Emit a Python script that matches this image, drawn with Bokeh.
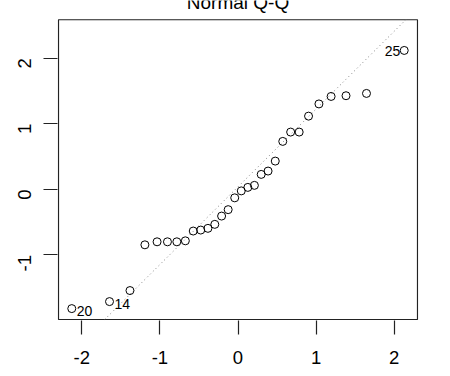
import math
from bokeh.plotting import figure
from bokeh.models import FixedTicker, ColumnDataSource
from bokeh.core.properties import value
from bokeh.embed import file_html
from bokeh.resources import INLINE

# Theoretical quantiles (n = 30)
theoretical = [-2.128, -1.645, -1.383, -1.192, -1.036, -0.903, -0.783, -0.674,
               -0.573, -0.477, -0.385, -0.297, -0.210, -0.126, -0.042,
               0.042, 0.126, 0.210, 0.297, 0.385, 0.477, 0.573, 0.674,
               0.783, 0.903, 1.036, 1.192, 1.383, 1.645, 2.128]
# Standardized residuals
std_resid = [-1.817, -1.710, -1.542, -0.845, -0.799, -0.799, -0.799, -0.784,
             -0.635, -0.620, -0.594, -0.533, -0.407, -0.309, -0.129,
             -0.023, 0.030, 0.061, 0.228, 0.279, 0.431, 0.731, 0.873,
             0.873, 1.116, 1.302, 1.416, 1.427, 1.462, 2.117]
# Labelled observations: (index in sorted order, label, side)
label_index = [0, 1, 29]
label_text = ["20", "14", "25"]
label_side = ["right", "right", "left"]
# Reference line (intercept, slope)
ref_line = [0.039, 1.185]
# Plot region (R "usr" limits)
plot_xlim = [-2.298, 2.298]
plot_ylim = [-1.983, 2.585]
x_ticks = [-2, -1, 0, 1, 2]
y_ticks = [-1, 0, 1, 2]
title_text = "Normal Q-Q"
title_y = 2.85

FONT = "Liberation Sans"
BOX = "#222222"

p = figure(width=450, height=376,
           x_range=(plot_xlim[0] - 0.0128, plot_xlim[1] + 0.0128),
           y_range=(plot_ylim[0] - 0.0152, 2.878),
           output_backend="svg", toolbar_location=None,
           min_border_left=57, min_border_right=32, min_border_top=0, min_border_bottom=56)
p.background_fill_color = "white"
p.border_fill_color = "white"
p.grid.visible = False
p.outline_line_color = None

p.xaxis.ticker = FixedTicker(ticks=x_ticks)
p.yaxis.ticker = FixedTicker(ticks=y_ticks)
for ax in (p.xaxis, p.yaxis):
    ax.axis_line_color = None
    ax.major_tick_out = 14
    ax.major_tick_in = 0
    ax.minor_tick_line_color = None
    ax.major_tick_line_color = BOX
    ax.major_tick_line_width = 1.2
    ax.major_label_text_font = FONT
    ax.major_label_text_font_size = "18.5px"
    ax.major_label_text_color = "black"
p.xaxis.major_label_overrides = {t: str(t) for t in x_ticks}
p.yaxis.major_label_overrides = {t: str(t) for t in y_ticks}
p.xaxis.major_label_standoff = 16
p.yaxis.major_label_standoff = 19
p.yaxis.major_label_orientation = math.pi / 2

# plot box
p.quad(left=[plot_xlim[0]], right=[plot_xlim[1]], bottom=[plot_ylim[0]], top=[plot_ylim[1]],
       fill_color=None, line_color=BOX, line_width=1.2)

# reference line clipped to the plot box
a, b = ref_line
lx0 = max(plot_xlim[0], (plot_ylim[0] - a) / b)
lx1 = min(plot_xlim[1], (plot_ylim[1] - a) / b)
p.line([lx0, lx1], [a + b * lx0, a + b * lx1], line_color="#808080",
       line_dash="1 3", line_width=1)

src = ColumnDataSource(dict(x=theoretical, y=std_resid))
p.scatter("x", "y", source=src, marker="circle", size=8, fill_color=None,
          line_color="black", line_width=1)

rx, ry, rt, qx, qy, qt = [], [], [], [], [], []
for i, t, s in zip(label_index, label_text, label_side):
    if s == "right":
        rx.append(theoretical[i]); ry.append(std_resid[i]); rt.append(t)
    else:
        qx.append(theoretical[i]); qy.append(std_resid[i]); qt.append(t)
p.text(x=rx, y=ry, text=rt, x_offset=5, y_offset=2, text_align="left",
       text_baseline="middle", text_font=value(FONT), text_font_size="14px",
       text_color="black")
p.text(x=qx, y=qy, text=qt, x_offset=-4, y_offset=1, text_align="right",
       text_baseline="middle", text_font=value(FONT), text_font_size="14px",
       text_color="black")

# title (partly above the canvas, as in the reference)
p.text(x=[0], y=[title_y], text=[title_text], text_align="center",
       text_baseline="alphabetic", text_font=value(FONT), text_font_size="19px",
       text_color="black")

open("out.html", "w").write(file_html(p, INLINE))
